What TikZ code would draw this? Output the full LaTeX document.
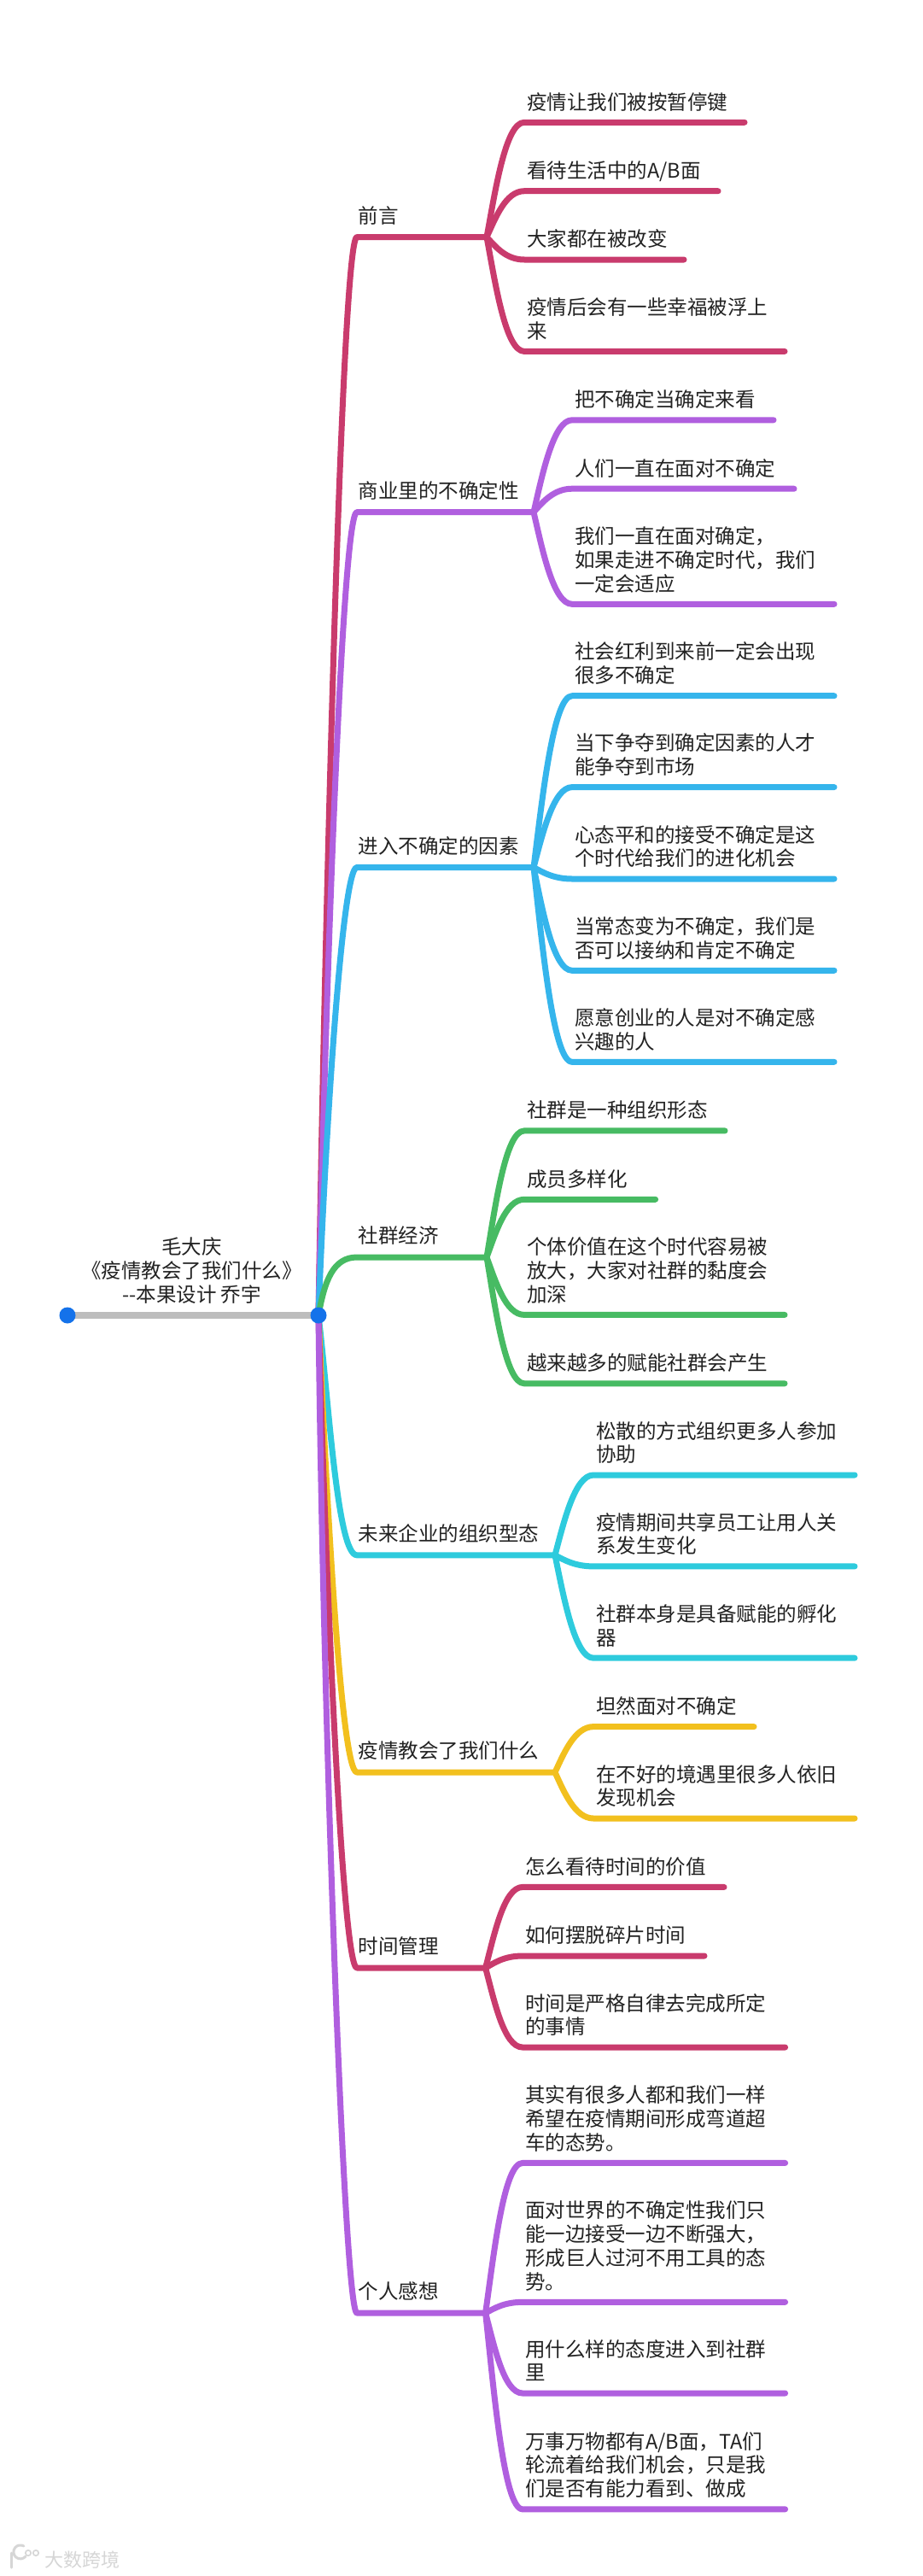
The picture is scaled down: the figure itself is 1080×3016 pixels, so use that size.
\documentclass[tikz,border=0pt]{standalone}
\usepackage{fontspec}
\setmainfont{Noto Sans CJK SC}
\definecolor{cRed}{HTML}{C93B6D}
\definecolor{cPurple}{HTML}{B05FDF}
\definecolor{cBlue}{HTML}{35B5EC}
\definecolor{cGreen}{HTML}{47BB63}
\definecolor{cCyan}{HTML}{2ECBDD}
\definecolor{cYellow}{HTML}{F2C01E}
\definecolor{cRoot}{HTML}{1472EA}
\definecolor{cGrey}{HTML}{BDBDBD}
\definecolor{cText}{HTML}{222222}
\definecolor{cMark}{HTML}{D6D6D6}
\tikzset{
  wire/.style={line width=7pt,line cap=round,line join=round,draw=bc},
  rootline/.style={line width=7.5pt,draw=cGrey},
  dot/.style={circle,fill=cRoot,draw=none,minimum size=19pt,inner sep=0pt},
  mapfont/.style={font=\fontsize{23.5}{27.8}\selectfont,text=cText,inner sep=0pt},
  label/.style={mapfont,anchor=south west,align=left,execute at end node=\strut},
  title/.style={mapfont,anchor=south,align=center,execute at end node=\strut},
}
% \topic{name}{line y}{hub x}{colour}{label}{c1x}{c1y}{c2x}
\newcommand{\topic}[8]{%
  \colorlet{bc}{#4}%
  \def\hubname{#1hub}\def\hubx{#3}\def\huby{#2}%
  \coordinate (#1hub) at (#3,#2);
  \coordinate (#1turn) at (418,#2);
  \node[label] (#1) at (419.5,#2-7.5) {#5};
  \draw[wire] (root) .. controls (#6,#7) and (#8,#2) .. (#1turn) -- (#1hub);
}
% \leaf{name}{start x}{line y}{end x}{text}
\newcommand{\leaf}[5]{%
  \coordinate (#1a) at (#2,#3);
  \coordinate (#1b) at (#4-3,#3);
  \node[label] (#1) at (#2+3,#3-6.5) {#5};
  \pgfmathsetmacro{\cya}{\huby*0.6+#3*0.4}%
  \pgfmathsetmacro{\cxa}{\hubx+10}%
  \pgfmathsetmacro{\cxb}{#2-22}%
  \draw[wire] (\hubname) .. controls (\cxa,\cya) and (\cxb,#3) .. (#1a) -- (#1b);
}
\begin{document}
\begin{tikzpicture}[x=1pt,y=-1pt]
\useasboundingbox (0,0) rectangle (1080,3016);
\fill[white] (0,0) rectangle (1080,3016);
\coordinate (root) at (373,1540);
\coordinate (start) at (79,1540);

\topic{a}{277.6}{570}{cRed}{前言}{380}{1100}{400}
\leaf{a1}{614}{143.3}{875}{疫情让我们被按暂停键}
\leaf{a2}{614}{223.7}{844}{看待生活中的A/B面}
\leaf{a3}{614}{304}{804}{大家都在被改变}
\leaf{a4}{614}{411.4}{922}{疫情后会有一些幸福被浮上\\来}

\topic{b}{599.6}{625}{cPurple}{商业里的不确定性}{380}{1211}{400}
\leaf{b1}{670}{491.8}{909}{把不确定当确定来看}
\leaf{b2}{670}{572.2}{933}{人们一直在面对不确定}
\leaf{b3}{670}{707.3}{980}{我们一直在面对确定，\\如果走进不确定时代，我们\\一定会适应}

\topic{c}{1015.5}{625}{cBlue}{进入不确定的因素}{380}{1350}{400}
\leaf{c1}{670}{814.7}{980}{社会红利到来前一定会出现\\很多不确定}
\leaf{c2}{670}{921.6}{980}{当下争夺到确定因素的人才\\能争夺到市场}
\leaf{c3}{670}{1029}{980}{心态平和的接受不确定是这\\个时代给我们的进化机会}
\leaf{c4}{670}{1136.3}{980}{当常态变为不确定，我们是\\否可以接纳和肯定不确定}
\leaf{c5}{670}{1243.3}{980}{愿意创业的人是对不确定感\\兴趣的人}

\topic{d}{1472}{570}{cGreen}{社群经济}{380}{1500}{390}
\leaf{d1}{614}{1323.9}{852}{社群是一种组织形态}
\leaf{d2}{614}{1404.3}{770.6}{成员多样化}
\leaf{d3}{614}{1539.4}{922}{个体价值在这个时代容易被\\放大，大家对社群的黏度会\\加深}
\leaf{d4}{614}{1619.8}{922}{越来越多的赋能社群会产生}

\topic{e}{1820.8}{650}{cCyan}{未来企业的组织型态}{385}{1640}{395}
\leaf{e1}{695}{1727}{1004}{松散的方式组织更多人参加\\协助}
\leaf{e2}{695}{1833.9}{1004}{疫情期间共享员工让用人关\\系发生变化}
\leaf{e3}{695}{1941.2}{1004}{社群本身是具备赋能的孵化\\器}

\topic{f}{2075}{650}{cYellow}{疫情教会了我们什么}{380}{1700}{398}
\leaf{f1}{695}{2021.6}{886}{坦然面对不确定}
\leaf{f2}{695}{2129}{1004}{在不好的境遇里很多人依旧\\发现机会}

\topic{g}{2304}{568.6}{cRed}{时间管理}{380}{1800}{400}
\leaf{g1}{612}{2209.4}{851}{怎么看待时间的价值}
\leaf{g2}{612}{2290}{828}{如何摆脱碎片时间}
\leaf{g3}{612}{2397}{922.6}{时间是严格自律去完成所定\\的事情}

\topic{h}{2708}{568.6}{cPurple}{个人感想}{378}{2000}{403}
\leaf{h1}{612}{2532.4}{922.6}{其实有很多人都和我们一样\\希望在疫情期间形成弯道超\\车的态势。}
\leaf{h2}{612}{2695.3}{922.6}{面对世界的不确定性我们只\\能一边接受一边不断强大，\\形成巨人过河不用工具的态\\势。}
\leaf{h3}{612}{2802}{922.6}{用什么样的态度进入到社群\\里}
\leaf{h4}{612}{2937.8}{922.6}{万事万物都有A/B面，TA们\\轮流着给我们机会，只是我\\们是否有能力看到、做成}

\draw[rootline] (start) -- (root);
\node[dot] (rootdot) at (root) {};
\node[dot] (startdot) at (start) {};
\node[title] (titletext) at (224.6,1533) {毛大庆\\《疫情教会了我们什么》\\-{}-本果设计 乔宇};

% watermark
\draw[cMark,line width=3pt,line cap=round] (13,2989) -- (13,3006);
\draw[cMark,line width=3pt,line cap=round] (30,2993) arc[start angle=40,end angle=300,radius=8];
\draw[cMark,line width=1.6pt] (33,2989) circle[radius=3.2] (42,2989) circle[radius=3.2];
\node[font=\fontsize{22}{24}\selectfont,text=cMark,inner sep=0pt,anchor=west] (mark) at (52,2997) {大数跨境};
\end{tikzpicture}
\end{document}
